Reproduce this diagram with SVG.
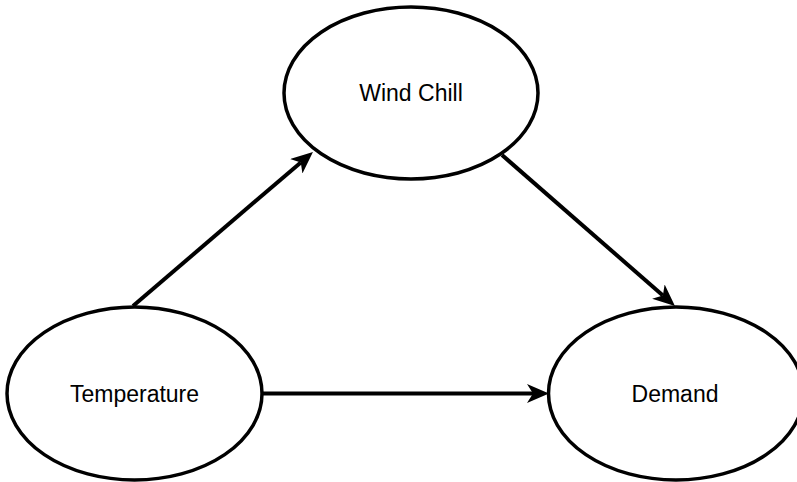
<svg xmlns="http://www.w3.org/2000/svg" width="797" height="482" viewBox="0 0 797 482">
  <style>
    .node ellipse { fill: #ffffff; stroke: #000000; stroke-width: 3.5; }
    .node text { font-family: "Liberation Sans", Arial, sans-serif; font-size: 23px; fill: #000000; text-anchor: middle; }
    .edge { stroke: #000000; stroke-width: 4; fill: none; marker-end: url(#arrow); }
  </style>
  <defs>
    <marker id="arrow" markerUnits="userSpaceOnUse" markerWidth="22" markerHeight="19" refX="6" refY="9.5" orient="auto">
      <path d="M0,0 L22,9.5 L0,19 L6,9.5 z" fill="#000000"/>
    </marker>
  </defs>

  <g id="connectors">
    <line class="edge" x1="133" y1="306" x2="300.8" y2="162.4"/>
    <line class="edge" x1="502" y1="155" x2="662.9" y2="295.5"/>
    <line class="edge" x1="262" y1="393.5" x2="533" y2="393.5"/>
  </g>

  <g id="wind-chill" class="node">
    <ellipse cx="411" cy="93" rx="127" ry="86"/>
    <text x="411" y="101">Wind Chill</text>
  </g>

  <g id="temperature" class="node">
    <ellipse cx="134.5" cy="393.5" rx="127.5" ry="86.5"/>
    <text x="134.5" y="402">Temperature</text>
  </g>

  <g id="demand" class="node">
    <ellipse cx="676" cy="393.5" rx="127.5" ry="86.5"/>
    <text x="675" y="402">Demand</text>
  </g>
</svg>
